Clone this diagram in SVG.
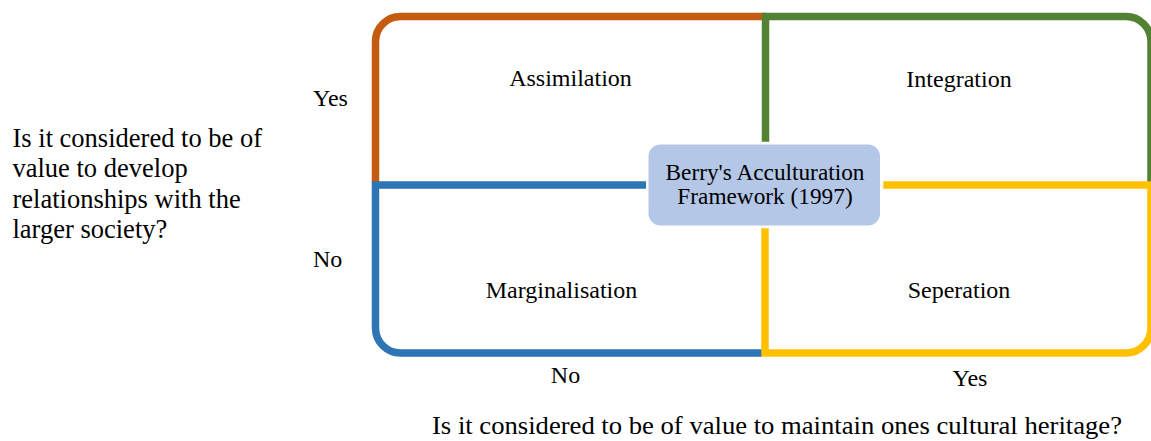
<svg xmlns="http://www.w3.org/2000/svg" width="1151" height="441" viewBox="0 0 1151 441">
<style>
.edge{fill:none;stroke-width:7.5;stroke-linejoin:miter;stroke-linecap:butt}
text{font-family:'Liberation Serif','Tinos','Times New Roman','DejaVu Serif',serif;fill:#000}
.q{font-size:24px;text-anchor:middle}
.yn{font-size:24px}
.c{font-size:23.3px;text-anchor:middle}
</style>
<rect width="1151" height="441" fill="#fff"/>
<g id="connectors"></g>
<g id="assimilation">
<path class="edge" stroke="#C55A11" d="M375.5 183V41.5A25 25 0 0 1 400.5 16.5H766"/>
<text class="q" x="570.5" y="86">Assimilation</text>
</g>
<g id="integration">
<path class="edge" stroke="#548235" d="M765.5 141.7V16.5H1126A25 25 0 0 1 1151 41.5V186"/>
<text class="q" x="959" y="86.5">Integration</text>
</g>
<g id="marginalisation">
<path class="edge" stroke="#2E75B6" d="M646 185H375.5V328A25 25 0 0 0 400.5 353H762"/>
<text class="q" x="561.5" y="298">Marginalisation</text>
</g>
<g id="separation">
<path class="edge" stroke="#FFC000" d="M883.3 185H1151V328A25 25 0 0 1 1126 353H765V228.3"/>
<text class="q" x="959" y="298">Seperation</text>
</g>
<g id="center">
<rect x="648.5" y="144.5" width="231.5" height="81" rx="12" fill="#B4C7E7"/>
<text class="c" x="765" y="180">Berry's Acculturation</text>
<text class="c" x="765" y="204">Framework (1997)</text>
</g>
<g id="y-axis">
<text font-size="26.5" x="12.5" y="146.5">Is it considered to be of</text>
<text font-size="26.5" x="12.5" y="177">value to develop</text>
<text font-size="26.5" x="12.5" y="207.5">relationships with the</text>
<text font-size="26.5" x="12.5" y="238">larger society?</text>
<text class="yn" x="313" y="106">Yes</text>
<text class="yn" x="313" y="266.5">No</text>
</g>
<g id="x-axis">
<text class="yn" text-anchor="middle" x="565.5" y="383">No</text>
<text class="yn" text-anchor="middle" x="970" y="386">Yes</text>
<text font-size="25" x="432" y="434" textLength="690" lengthAdjust="spacingAndGlyphs">Is it considered to be of value to maintain ones cultural heritage?</text>
</g>
</svg>
